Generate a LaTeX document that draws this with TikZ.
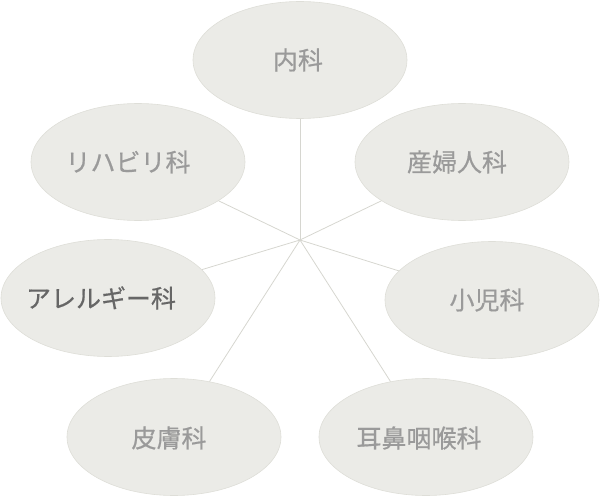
\documentclass[tikz,border=0pt]{standalone}
\usepackage{fontspec}
\newfontfamily\cjk[FakeBold=0.6]{Noto Sans CJK JP}
\usetikzlibrary{shapes.geometric}
\definecolor{blobfill}{HTML}{EBEBE7}
\definecolor{blobedge}{HTML}{DEDED8}
\definecolor{spoke}{HTML}{D6D6D0}
\definecolor{lbltext}{HTML}{9A9A9A}
\definecolor{lbldark}{HTML}{666666}
\tikzset{
  blob/.style={ellipse, fill=blobfill, draw=blobedge, line width=0.6pt,
    minimum width=214pt, minimum height=117pt, inner sep=0pt},
  lbl/.style={font=\cjk\fontsize{25}{25}\selectfont, text=lbltext, inner sep=0pt},
  lbldk/.style={lbl, text=lbldark},
  spokeline/.style={draw=spoke, line width=0.8pt}
}
\begin{document}
\begin{tikzpicture}[x=1pt,y=-1pt]
\useasboundingbox (0,0) rectangle (600,500);
\coordinate (c) at (300,240);
\node[blob] (naika) at (300,60) {};
\node[blob] (sanfu) at (462,162) {};
\node[blob] (shoni) at (492,300) {};
\node[blob] (jibi) at (426,437) {};
\node[blob] (hifu) at (174,437) {};
\node[blob] (arer) at (108,298) {};
\node[blob] (riha) at (138,162) {};
\foreach \n in {naika,sanfu,shoni,jibi,hifu,arer,riha}
  \draw[spokeline] (c) -- (\n);
\node[lbl] (tnaika) at ([xshift=-2pt]naika.center) {内科};
\node[lbl] (tsanfu) at ([xshift=-5pt]sanfu.center) {産婦人科};
\node[lbl] (tshoni) at ([xshift=-5pt]shoni.center) {小児科};
\node[lbl] (tjibi) at ([xshift=-7pt,yshift=-1pt]jibi.center) {耳鼻咽喉科};
\node[lbl] (thifu) at ([xshift=-5pt,yshift=-1pt]hifu.center) {皮膚科};
\node[lbldk] (tarer) at ([xshift=-7pt]arer.center) {アレルギー科};
\node[lbl] (triha) at ([xshift=-10pt]riha.center) {リハビリ科};
\end{tikzpicture}
\end{document}
